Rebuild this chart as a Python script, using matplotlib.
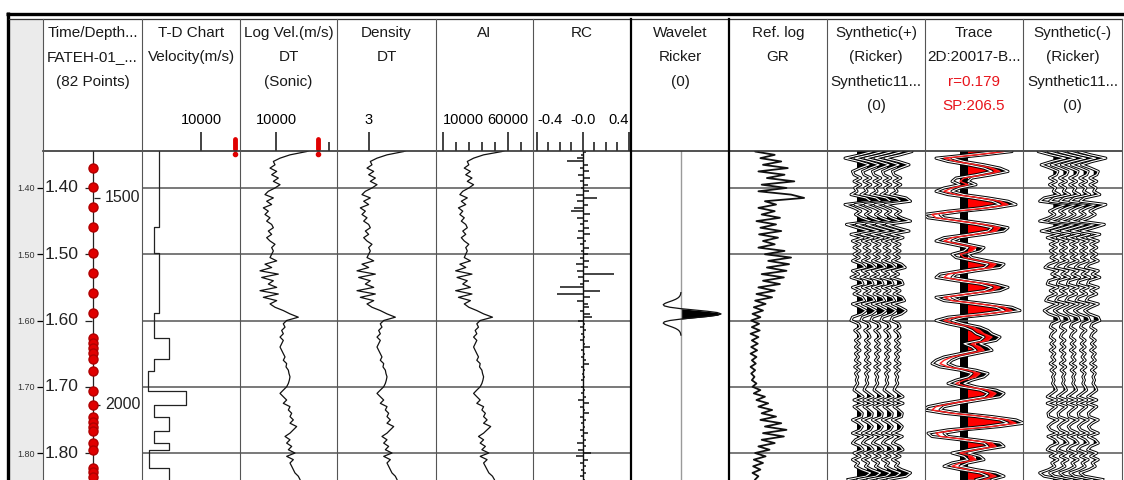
import numpy as np
import matplotlib
matplotlib.use("Agg")
import matplotlib.pyplot as plt
from matplotlib import patheffects as pe

plt.rcParams["font.family"] = ["Liberation Sans", "DejaVu Sans"]

W, H = 1124, 480

# ---- data -------------------------------------------------------------
time_ticks = [1.40, 1.50, 1.60, 1.70, 1.80]
time_labels = ["1.40", "1.50", "1.60", "1.70", "1.80"]
t = 1.340 + 0.005 * np.arange(101)          # 5 ms sample grid

# time-depth (checkshot) points and interval velocity below each one
td_times = [1.370, 1.3985, 1.4287, 1.4588, 1.498, 1.528, 1.558, 1.5885, 1.626, 1.634,
            1.641, 1.649, 1.658, 1.676, 1.706, 1.727, 1.745, 1.753, 1.760, 1.767,
            1.785, 1.795, 1.822, 1.828, 1.836]
td_vel = [2880, 2880, 2880, 2030, 2880, 2880, 2880, 2030, 4580, 4580,
          4580, 4580, 2030, 1100, 7460, 2030, 4580, 4580, 4580, 2030,
          4580, 1190, 4580, 4580, 4580]
depth_labels = ["1500", "2000"]
depth_times = [1.415, 1.727]
td_marker_vel = 15760
log_marker_vel = 17920

log_vel = [17360, 15790, 12640, 10760, 9500, 9810, 8870, 10130, 9180, 10440,
           9500, 10760, 9810, 8550, 7920, 9500, 8240, 9180, 7610, 8550,
           7920, 8870, 8240, 9180, 9500, 8550, 9180, 8240, 8870, 9810,
           9180, 9500, 9180, 8870, 10130, 7920, 9180, 6980, 10440, 7300,
           9500, 8550, 10130, 6980, 10440, 7610, 10130, 8870, 9810, 11380,
           12640, 14210, 12010, 11380, 11700, 11070, 11380, 10760, 11380, 11070,
           10760, 11070, 11380, 11700, 11380, 12010, 11890, 12330, 12450, 12640,
           12520, 12330, 12010, 11380, 10760, 11380, 12010, 11380, 12640, 12330,
           12960, 12640, 13270, 12640, 13900, 13270, 12640, 11700, 12640, 12010,
           12960, 12330, 13580, 12010, 13270, 12640, 12960, 13270, 13580, 14210,
           14530]

density = [3.623, 3.503, 3.261, 3.116, 3.019, 3.043, 2.971, 3.068, 2.995, 3.092,
           3.019, 3.116, 3.043, 2.947, 2.898, 3.019, 2.923, 2.995, 2.874, 2.947,
           2.898, 2.971, 2.923, 2.995, 3.019, 2.947, 2.995, 2.923, 2.971, 3.043,
           2.995, 3.019, 2.995, 2.971, 3.068, 2.898, 2.995, 2.826, 3.092, 2.850,
           3.019, 2.947, 3.068, 2.826, 3.092, 2.874, 3.068, 2.971, 3.043, 3.164,
           3.261, 3.382, 3.213, 3.164, 3.188, 3.140, 3.164, 3.116, 3.164, 3.140,
           3.116, 3.140, 3.164, 3.188, 3.164, 3.213, 3.203, 3.237, 3.246, 3.261,
           3.251, 3.237, 3.213, 3.164, 3.116, 3.164, 3.213, 3.164, 3.261, 3.237,
           3.285, 3.261, 3.309, 3.261, 3.358, 3.309, 3.261, 3.188, 3.261, 3.213,
           3.285, 3.237, 3.333, 3.213, 3.309, 3.261, 3.285, 3.309, 3.333, 3.382,
           3.406]

ai = np.array(log_vel) * np.array(density)

rc = [0.00, 0.03, -0.02, -0.05, -0.14, 0.04, -0.03, 0.05, -0.04, 0.06,
      -0.03, 0.04, -0.02, 0.05, -0.06, 0.12, -0.05, 0.04, -0.08, -0.10,
      0.06, -0.05, 0.04, -0.03, 0.05, -0.04, 0.06, -0.05, 0.03, -0.03,
      0.05, -0.02, 0.04, -0.03, 0.05, -0.06, 0.04, -0.05, 0.27, -0.04,
      0.05, -0.03, -0.20, 0.15, -0.23, 0.06, -0.05, 0.04, 0.05, -0.03,
      0.06, 0.08, -0.04, 0.02, -0.03, 0.03, -0.02, 0.02, -0.03, 0.02,
      0.06, -0.02, 0.02, -0.02, 0.03, 0.05, -0.02, 0.02, -0.01, 0.02,
      -0.02, 0.01, -0.02, 0.02, -0.02, 0.03, -0.04, 0.05, -0.03, 0.02,
      0.05, -0.03, 0.03, -0.02, 0.02, -0.03, 0.04, -0.02, 0.03, -0.05,
      0.03, -0.04, 0.07, -0.06, 0.04, -0.03, 0.03, -0.02, 0.03, -0.03,
      0.02]

gr = [55, 40, 70, 48, 80, 52, 90, 45, 85, 58,
      100, 50, 88, 45, 95, 115, 55, 72, 45, 70,
      50, 78, 42, 72, 48, 80, 46, 75, 52, 70,
      45, 85, 55, 95, 60, 92, 58, 88, 50, 84,
      52, 78, 45, 70, 42, 66, 40, 56, 38, 52,
      36, 48, 34, 46, 35, 47, 33, 45, 35, 44,
      34, 43, 33, 42, 35, 41, 33, 40, 34, 39,
      35, 42, 36, 48, 38, 55, 42, 60, 45, 66,
      50, 72, 48, 80, 55, 88, 52, 84, 50, 70,
      45, 62, 40, 56, 38, 52, 37, 48, 36, 45,
      40]

wavelet_ms = np.arange(-32, 34, 2)
wavelet_amp = [-0.003, -0.009, -0.020, -0.041, -0.077, -0.134, -0.213, -0.306, -0.395, -0.444,
               -0.416, -0.278, -0.024, 0.310, 0.650, 0.905, 1.000, 0.905, 0.650, 0.310,
               -0.024, -0.278, -0.416, -0.444, -0.395, -0.306, -0.213, -0.134, -0.077, -0.041,
               -0.020, -0.009, -0.003]
wavelet_center = 1.590

synth = [0.5, 1.0, 0.2, -0.8, 0.1, 0.8, 0.2, -0.3, -0.2, 0.25,
         -0.2, 0.25, -0.15, 0.0, -0.4, 0.6, 0.9, -0.8, -0.2, 0.25,
         -0.1, 0.3, 0.9, -0.7, 0.0, 0.8, -0.4, 0.4, -0.3, 0.2,
         -0.2, 0.2, -0.2, 0.15, -0.3, 0.3, 0.55, -0.3, 0.1, -0.4,
         0.3, 0.4, -0.3, 0.2, -0.2, 0.35, 0.5, -0.3, 0.2, 0.6,
         0.3, -0.3, -0.4, 0.1, 0.2, -0.15, 0.1, 0.2, -0.1, 0.15,
         -0.1, 0.2, -0.1, 0.1, -0.1, 0.2, -0.15, 0.15, -0.1, 0.05,
         -0.05, 0.05, -0.1, -0.2, 0.1, 0.4, -0.2, 0.4, -0.2, 0.1,
         0.35, 0.3, -0.3, 0.1, 0.35, 0.2, -0.3, 0.35, -0.1, -0.3,
         0.2, 0.4, -0.2, 0.2, -0.3, 0.1, -0.1, 0.3, 0.9, 0.6,
         -0.6]

trace = [0.6, 0.9, 0.2, -0.6, -0.3, 0.2, 0.6, 0.8, 0.4, -0.1,
         -0.2, 0.0, -0.4, -0.6, -0.3, 0.3, 0.8, 1.0, 0.5, -0.3,
         -0.9, -0.8, -0.2, 0.4, 0.8, 0.7, 0.2, -0.4, -0.6, -0.2,
         0.2, 0.1, -0.2, -0.1, 0.3, 0.7, 0.6, 0.0, -0.5, -0.6,
         -0.1, 0.5, 0.8, 0.6, 0.0, -0.6, -0.4, 0.3, 0.9, 1.1,
         0.5, -0.3, -0.6, -0.3, 0.1, 0.3, 0.4, 0.6, 0.5, 0.1,
         0.3, 0.4, 0.0, -0.4, -0.6, -0.7, -0.5, 0.0, 0.3, 0.2,
         -0.1, -0.3, 0.0, 0.5, 0.7, 0.6, 0.1, -0.4, -0.8, -0.9,
         -0.4, 0.4, 1.0, 1.2, 0.6, -0.3, -0.8, -0.7, 0.0, 0.6,
         0.7, 0.2, -0.2, 0.1, 0.2, -0.2, -0.4, 0.0, 0.5, 0.7,
         0.4]

# ---- layout -------------------------------------------------------------
edges = [43, 142, 240, 337, 436, 533, 631, 729, 827, 925, 1023, 1122]
t_top, t_bot = 1.3442, 1.8407
grid_col = "#555555"

fig = plt.figure(figsize=(W / 100, H / 100), dpi=100)


def px_rect(x0, y0, x1, y1):
    return [x0 / W, 1 - y1 / H, (x1 - x0) / W, (y1 - y0) / H]


def col_ax(i, xlim, grid=True):
    ax = fig.add_axes(px_rect(edges[i], 151, edges[i + 1], 480))
    ax.set_xlim(*xlim)
    ax.set_ylim(t_bot, t_top)
    for s in ax.spines.values():
        s.set_visible(False)
    ax.set_yticks(time_ticks)
    ax.tick_params(axis="y", length=0, labelleft=False)
    ax.set_xticks([])
    ax.tick_params(axis="x", which="both", top=True, bottom=False, labeltop=True,
                   labelbottom=False, direction="out", width=1.2, color="#222222",
                   labelsize=10.5, pad=4)
    ax.tick_params(axis="x", which="major", length=13.5)
    ax.tick_params(axis="x", which="minor", length=6.5)
    if grid:
        ax.grid(axis="y", color=grid_col, lw=1.1)
    ax.patch.set_alpha(0)
    return ax


# gray strip on the far left
strip = fig.add_axes(px_rect(9, 19, 43, 480))
strip.set_facecolor("#ebebeb")
strip.set_xticks([])
strip.set_yticks([])
for s in strip.spines.values():
    s.set_visible(False)

# time / depth column
ax_td = col_ax(0, (0, 1), grid=False)
ax_td.tick_params(axis="y", left=True, length=4.5, width=0.9, labelleft=True,
                  labelsize=6.5, pad=1.5, labelcolor="#333333")
ax_td.set_yticklabels(time_labels)
ax_td.axvline(0.505, color="#222222", lw=0.9)
for tt, lab in zip(time_ticks, time_labels):
    ax_td.text(0.36, tt, lab, ha="right", va="center", fontsize=12.5, color="#222222")
ax_td.hlines(time_ticks, 0.425, 0.49, color="#222222", lw=0.9)
ax_td.hlines(depth_times, 0.52, 0.575, color="#222222", lw=0.9)
for tt, lab in zip(depth_times, depth_labels):
    ax_td.text(0.625, tt, lab, ha="left", va="center", fontsize=11.5, color="#222222")
ax_td.plot([0.505] * len(td_times), td_times, "o", color="#e00000", mec="#b00000",
           ms=6.5, zorder=3)

# T-D chart interval velocity
ax_tdc = col_ax(1, (0, 16610))
edges_t = [1.340] + td_times + [1.845]
vels = [td_vel[0]] + td_vel
ax_tdc.plot(np.repeat(vels, 2), np.repeat(edges_t, 2)[1:-1], color="#222222", lw=0.9)
ax_tdc.set_xticks([10000])
ax_tdc.set_xticklabels(["10000"])
ax_tdc.plot([td_marker_vel, td_marker_vel], [1.3255, 1.3410], color="#e00000", lw=3.5,
            clip_on=False, solid_capstyle="round")
ax_tdc.plot([td_marker_vel], [1.3487], "o", color="#e00000", ms=3, clip_on=False)

# log velocity
ax_v = col_ax(2, (3207, 21511))
ax_v.plot(log_vel, t, color="#111111", lw=0.9)
ax_v.set_xticks([10000])
ax_v.set_xticklabels(["10000"])
ax_v.set_xticks([20000], minor=True)
ax_v.plot([log_marker_vel, log_marker_vel], [1.3255, 1.3410], color="#e00000", lw=3.5,
          clip_on=False, solid_capstyle="round")
ax_v.plot([log_marker_vel], [1.3487], "o", color="#e00000", ms=3, clip_on=False)

# density
ax_d = col_ax(3, (2.536, 3.9715))
ax_d.plot(density, t, color="#111111", lw=0.9)
ax_d.set_xticks([3])
ax_d.set_xticklabels(["3"])

# acoustic impedance
ax_ai = col_ax(4, (4617, 79210))
ax_ai.plot(ai, t, color="#111111", lw=0.9)
ax_ai.set_xticks([10000, 60000])
ax_ai.set_xticklabels(["10000", "60000"])
ax_ai.set_xticks([20000, 30000, 40000, 50000, 70000], minor=True)
ax_ai.get_xticklabels()[0].set_ha("left")

# reflection coefficients
ax_rc = col_ax(5, (-0.4348, 0.4178))
ax_rc.axvline(0, color="#111111", lw=1.0)
ax_rc.hlines(t, 0, rc, color="#111111", lw=1.1)
ax_rc.set_xticks([-0.4, 0.0, 0.4])
ax_rc.set_xticklabels(["-0.4", "-0.0", "0.4"])
ax_rc.set_xticks([-0.3, -0.2, -0.1, 0.1, 0.2, 0.3], minor=True)
lbls = ax_rc.get_xticklabels()
lbls[0].set_ha("left")
lbls[2].set_ha("right")

# wavelet
ax_w = col_ax(6, (-1.25, 1.2), grid=False)
wt = wavelet_center + np.array(wavelet_ms) / 1000.0
wa = np.array(wavelet_amp)
ax_w.axvline(0, color="#9a9a9a", lw=1.0)
ax_w.plot(wa, wt, color="#111111", lw=0.9)
ax_w.fill_betweenx(wt, 0, wa, where=wa > 0, interpolate=True, color="black", lw=0)

# reference GR log
ax_gr = col_ax(7, (0, 150))
ax_gr.plot(gr, t, color="#111111", lw=1.3)


# synthetic traces
def wiggle(ax, base, amp, gain, fill="black", line=None):
    x = base + gain * np.asarray(amp)
    ax.fill_betweenx(t, base, x, where=x > base, interpolate=True, color=fill, lw=0)
    if line is None:
        ax.plot(x, t, color="white", lw=0.8,
                path_effects=[pe.Stroke(linewidth=2.2, foreground="black"), pe.Normal()])
    else:
        ax.plot(x, t, color=line, lw=1.0)


ax_sp = col_ax(8, (-2, 7.8))
for b in [1, 2, 3, 4, 5]:
    wiggle(ax_sp, b, synth, 1.5)

ax_tr = col_ax(9, (-3.5, 6.3))
ax_tr.axvspan(0, 0.8, color="black", lw=0)
wiggle(ax_tr, 1.6, trace, 4.0)
wiggle(ax_tr, 0, trace, 4.0)
wiggle(ax_tr, 0.8, trace, 4.0, fill="#ff0000", line="#ff2020")

ax_sm = col_ax(10, (-2, 7.8))
for b in [1, 2, 3, 4, 5]:
    wiggle(ax_sm, b, -np.asarray(synth), 1.5)

# ---- frame, borders and header text ----------------------------------------
bg = fig.add_axes([0, 0, 1, 1])
bg.set_xlim(0, W)
bg.set_ylim(H, 0)
bg.axis("off")
bg.patch.set_alpha(0)
bg.set_zorder(10)

bg.plot([6, W], [13.5, 13.5], color="black", lw=2.4, solid_capstyle="butt")
bg.plot([7.5, 7.5], [12, H], color="black", lw=2.4, solid_capstyle="butt")
bg.plot([9, 1122], [19, 19], color="#333333", lw=0.9)
bg.plot([43, 1122], [151, 151], color="#333333", lw=1.2)
for x in edges:
    if x in (631, 729):
        bg.plot([x, x], [19, H], color="black", lw=1.6)
    else:
        bg.plot([x, x], [19, H], color="#555555", lw=0.8)

headers = [
    ["Time/Depth...", "FATEH-01_...", "(82 Points)"],
    ["T-D Chart", "Velocity(m/s)"],
    ["Log Vel.(m/s)", "DT", "(Sonic)"],
    ["Density", "DT"],
    ["AI"],
    ["RC"],
    ["Wavelet", "Ricker", "(0)"],
    ["Ref. log", "GR"],
    ["Synthetic(+)", "(Ricker)", "Synthetic11...", "(0)"],
    ["Trace", "2D:20017-B...", "r=0.179", "SP:206.5"],
    ["Synthetic(-)", "(Ricker)", "Synthetic11...", "(0)"],
]
line_y = [33, 57, 82, 106]
for i, lines in enumerate(headers):
    xc = (edges[i] + edges[i + 1]) / 2
    for k, s in enumerate(lines):
        c = "#e8141c" if (i == 9 and k >= 2) else "#1a1a1a"
        bg.text(xc, line_y[k], s, ha="center", va="center", fontsize=11, color=c)

fig.savefig("out.png", dpi=100)
